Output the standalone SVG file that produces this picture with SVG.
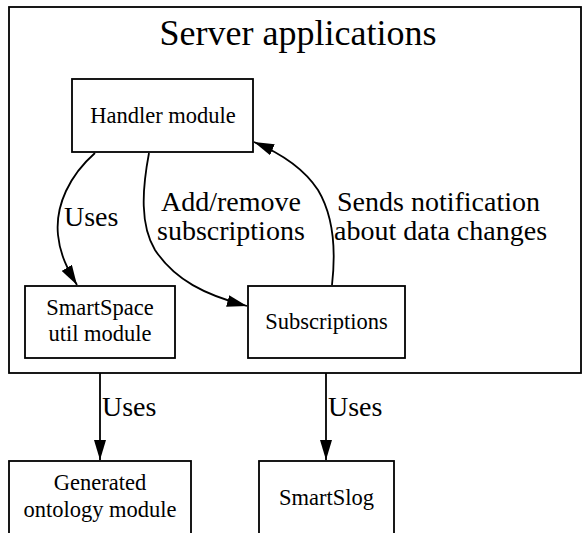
<svg xmlns="http://www.w3.org/2000/svg" width="583" height="533" viewBox="0 0 583 533">
<defs>
<style>
.box{fill:#fff;stroke:#000;stroke-width:1.8}
.edge{fill:none;stroke:#000;stroke-width:1.8}
text{font-family:"Liberation Serif","Times New Roman",serif;fill:#000}
.nl{font-size:22.5px;text-anchor:middle}
.el{font-size:28px}
</style>
<marker id="ah" viewBox="0 0 20 12" refX="20" refY="6" markerWidth="20" markerHeight="12" markerUnits="userSpaceOnUse" orient="auto">
<path d="M0,0 L20,6 L0,12 Z" fill="#000"/>
</marker>
</defs>
<rect width="583" height="533" fill="#fff"/>
<g id="cluster">
<rect class="box" x="9" y="7" width="572" height="366"/>
<text x="298" y="45" font-size="36" text-anchor="middle">Server applications</text>
</g>
<g id="connectors">
<path class="edge" d="M95,153 C70,175 55,205 58,235 C60,255 68,270 77,285" marker-end="url(#ah)"/>
<path class="edge" d="M149,153 C142,190 140,225 155,250 C175,280 205,295 247,306" marker-end="url(#ah)"/>
<path class="edge" d="M332,285 C336,250 333,215 318,190 C305,170 285,155 254,142" marker-end="url(#ah)"/>
<path class="edge" d="M100,373 L100,460" marker-end="url(#ah)"/>
<path class="edge" d="M326,373 L326,460" marker-end="url(#ah)"/>
<text class="el" x="64" y="226">Uses</text>
<text class="el" x="161" y="211">Add/remove</text>
<text class="el" x="157" y="240">subscriptions</text>
<text class="el" x="337" y="211">Sends notification</text>
<text class="el" x="334" y="240">about data changes</text>
<text class="el" x="102" y="416">Uses</text>
<text class="el" x="328" y="416">Uses</text>
</g>
<g id="handler">
<rect class="box" x="72" y="79" width="181" height="73"/>
<text class="nl" x="163" y="123">Handler module</text>
</g>
<g id="smartspace">
<rect class="box" x="25" y="286" width="150" height="72"/>
<text class="nl" x="100" y="315">SmartSpace</text>
<text class="nl" x="100" y="341">util module</text>
</g>
<g id="subscriptions">
<rect class="box" x="248" y="286" width="157" height="72"/>
<text class="nl" x="326.5" y="329">Subscriptions</text>
</g>
<g id="ontology">
<rect class="box" x="9" y="461" width="182" height="80"/>
<text class="nl" x="100" y="490">Generated</text>
<text class="nl" x="100" y="517">ontology module</text>
</g>
<g id="smartslog">
<rect class="box" x="259" y="461" width="135" height="80"/>
<text class="nl" x="326.5" y="505">SmartSlog</text>
</g>
</svg>
